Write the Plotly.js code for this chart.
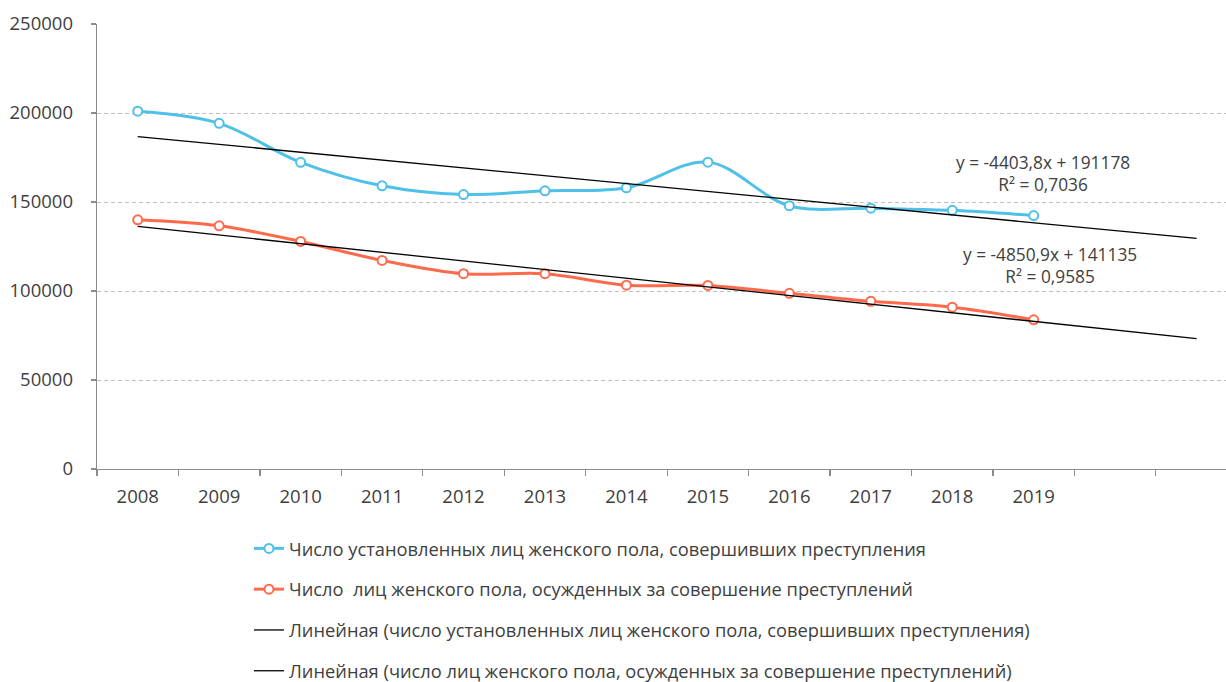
<!DOCTYPE html>
<html>
<head>
<meta charset="utf-8">
<script src="https://cdn.plot.ly/plotly-3.0.1.min.js"></script>
<style>
html,body{margin:0;padding:0;background:#fff;overflow:hidden;}
#chart{width:1226px;height:682px;}
</style>
</head>
<body>
<div id="chart"></div>
<script>
// Data
const years = ['2008','2009','2010','2011','2012','2013','2014','2015','2016','2017','2018','2019'];
const identified = [201000, 194200, 172300, 159100, 154200, 156300, 158000, 172400, 147900, 146500, 145300, 142400];
const convicted  = [140000, 136600, 127850, 117200, 109700, 109700, 103300, 103100, 98700, 94200, 90900, 83800];
// Trend-line coefficients as printed on the chart (slope, intercept), forecast 2 periods forward
const trendIdentified = [-4403.8, 191178];
const trendConvicted  = [-4850.9, 141135];
const trendLabels = ['y = -4403,8x + 191178<br>R² = 0,7036', 'y = -4850,9x + 141135<br>R² = 0,9585'];
const yTicks = [0, 50000, 100000, 150000, 200000, 250000];
const yTickText = ['0', '50000', '100000', '150000', '200000', '250000'];
const seriesNames = [
  'Число установленных лиц женского пола, совершивших преступления',
  'Число  лиц женского пола, осужденных за совершение преступлений',
  'Линейная (число установленных лиц женского пола, совершивших преступления)',
  'Линейная (число лиц женского пола, осужденных за совершение преступлений)'
];
const forecastPeriods = 2;

const idx = years.map((_, i) => i);
const nTotal = years.length + forecastPeriods;
const trendX = [0, nTotal - 1];
const trendY = (c) => trendX.map(i => c[0] * (i + 1) + c[1]);

const FONT = 'Open Sans, Liberation Sans, sans-serif';
const blue = '#4FC1E9';
const red = '#FF6A4D';
const TXT = '#404040';

const traces = [
  {x: idx, y: identified, name: seriesNames[0], type: 'scatter', mode: 'lines+markers',
   line: {color: blue, width: 3, shape: 'spline', smoothing: 1},
   marker: {symbol: 'circle', size: 9, color: '#ffffff', line: {color: blue, width: 2}},
   legendgroup: 'a'},
  {x: idx, y: convicted, name: seriesNames[1], type: 'scatter', mode: 'lines+markers',
   line: {color: red, width: 3, shape: 'spline', smoothing: 1},
   marker: {symbol: 'circle', size: 9, color: '#ffffff', line: {color: red, width: 2}},
   legendgroup: 'b'},
  {x: trendX, y: trendY(trendIdentified), name: seriesNames[2], type: 'scatter', mode: 'lines',
   line: {color: '#000000', width: 1.3}, legendgroup: 'c'},
  {x: trendX, y: trendY(trendConvicted), name: seriesNames[3], type: 'scatter', mode: 'lines',
   line: {color: '#000000', width: 1.3}, legendgroup: 'd'}
];

const boundaries = [];
for (let i = 0; i < nTotal; i++) boundaries.push(i - 0.5);

const layout = {
  width: 1226, height: 682,
  margin: {l: 97, r: 0, t: 24, b: 213, autoexpand: false},
  paper_bgcolor: '#ffffff', plot_bgcolor: '#ffffff',
  font: {family: FONT, size: 18, color: TXT},
  showlegend: true,
  hovermode: false,
  xaxis: {
    range: [-0.5, -0.5 + 1129 / 81.45],
    tickmode: 'array', tickvals: idx, ticktext: years,
    ticks: '', showgrid: false, zeroline: false,
    showline: true, linecolor: '#8C8C8C', linewidth: 1.3,
    ticklabelstandoff: 10,
    tickfont: {family: FONT, size: 18.5, color: TXT},
    minor: {tickmode: 'array', tickvals: boundaries, ticks: 'outside', ticklen: 6, tickcolor: '#8C8C8C', tickwidth: 1.3, showgrid: false}
  },
  yaxis: {
    range: [0, 250000],
    tickmode: 'array', tickvals: yTicks, ticktext: yTickText,
    ticks: 'outside', ticklen: 5, tickcolor: '#8C8C8C', tickwidth: 1.3,
    showgrid: true, gridcolor: '#BFBFBF', griddash: '4px,3px', gridwidth: 1,
    zeroline: false, showline: true, linecolor: '#8C8C8C', linewidth: 1.3,
    ticklabelstandoff: 14,
    tickfont: {family: FONT, size: 18.5, color: TXT}
  },
  legend: {
    orientation: 'v', x: 0.1346, xanchor: 'left', y: 0.2229, yref: 'container', yanchor: 'top',
    font: {family: FONT, size: 18.3, color: TXT},
    tracegroupgap: 14, bgcolor: 'rgba(0,0,0,0)'
  },
  annotations: [
    {x: 11.11, y: 166000, xref: 'x', yref: 'y', text: trendLabels[0], showarrow: false,
     align: 'center', font: {family: FONT, size: 17.3, color: TXT}},
    {x: 11.2, y: 114500, xref: 'x', yref: 'y', text: trendLabels[1], showarrow: false,
     align: 'center', font: {family: FONT, size: 17.3, color: TXT}}
  ]
};

Plotly.newPlot('chart', traces, layout, {displayModeBar: false, staticPlot: true});
</script>
</body>
</html>
